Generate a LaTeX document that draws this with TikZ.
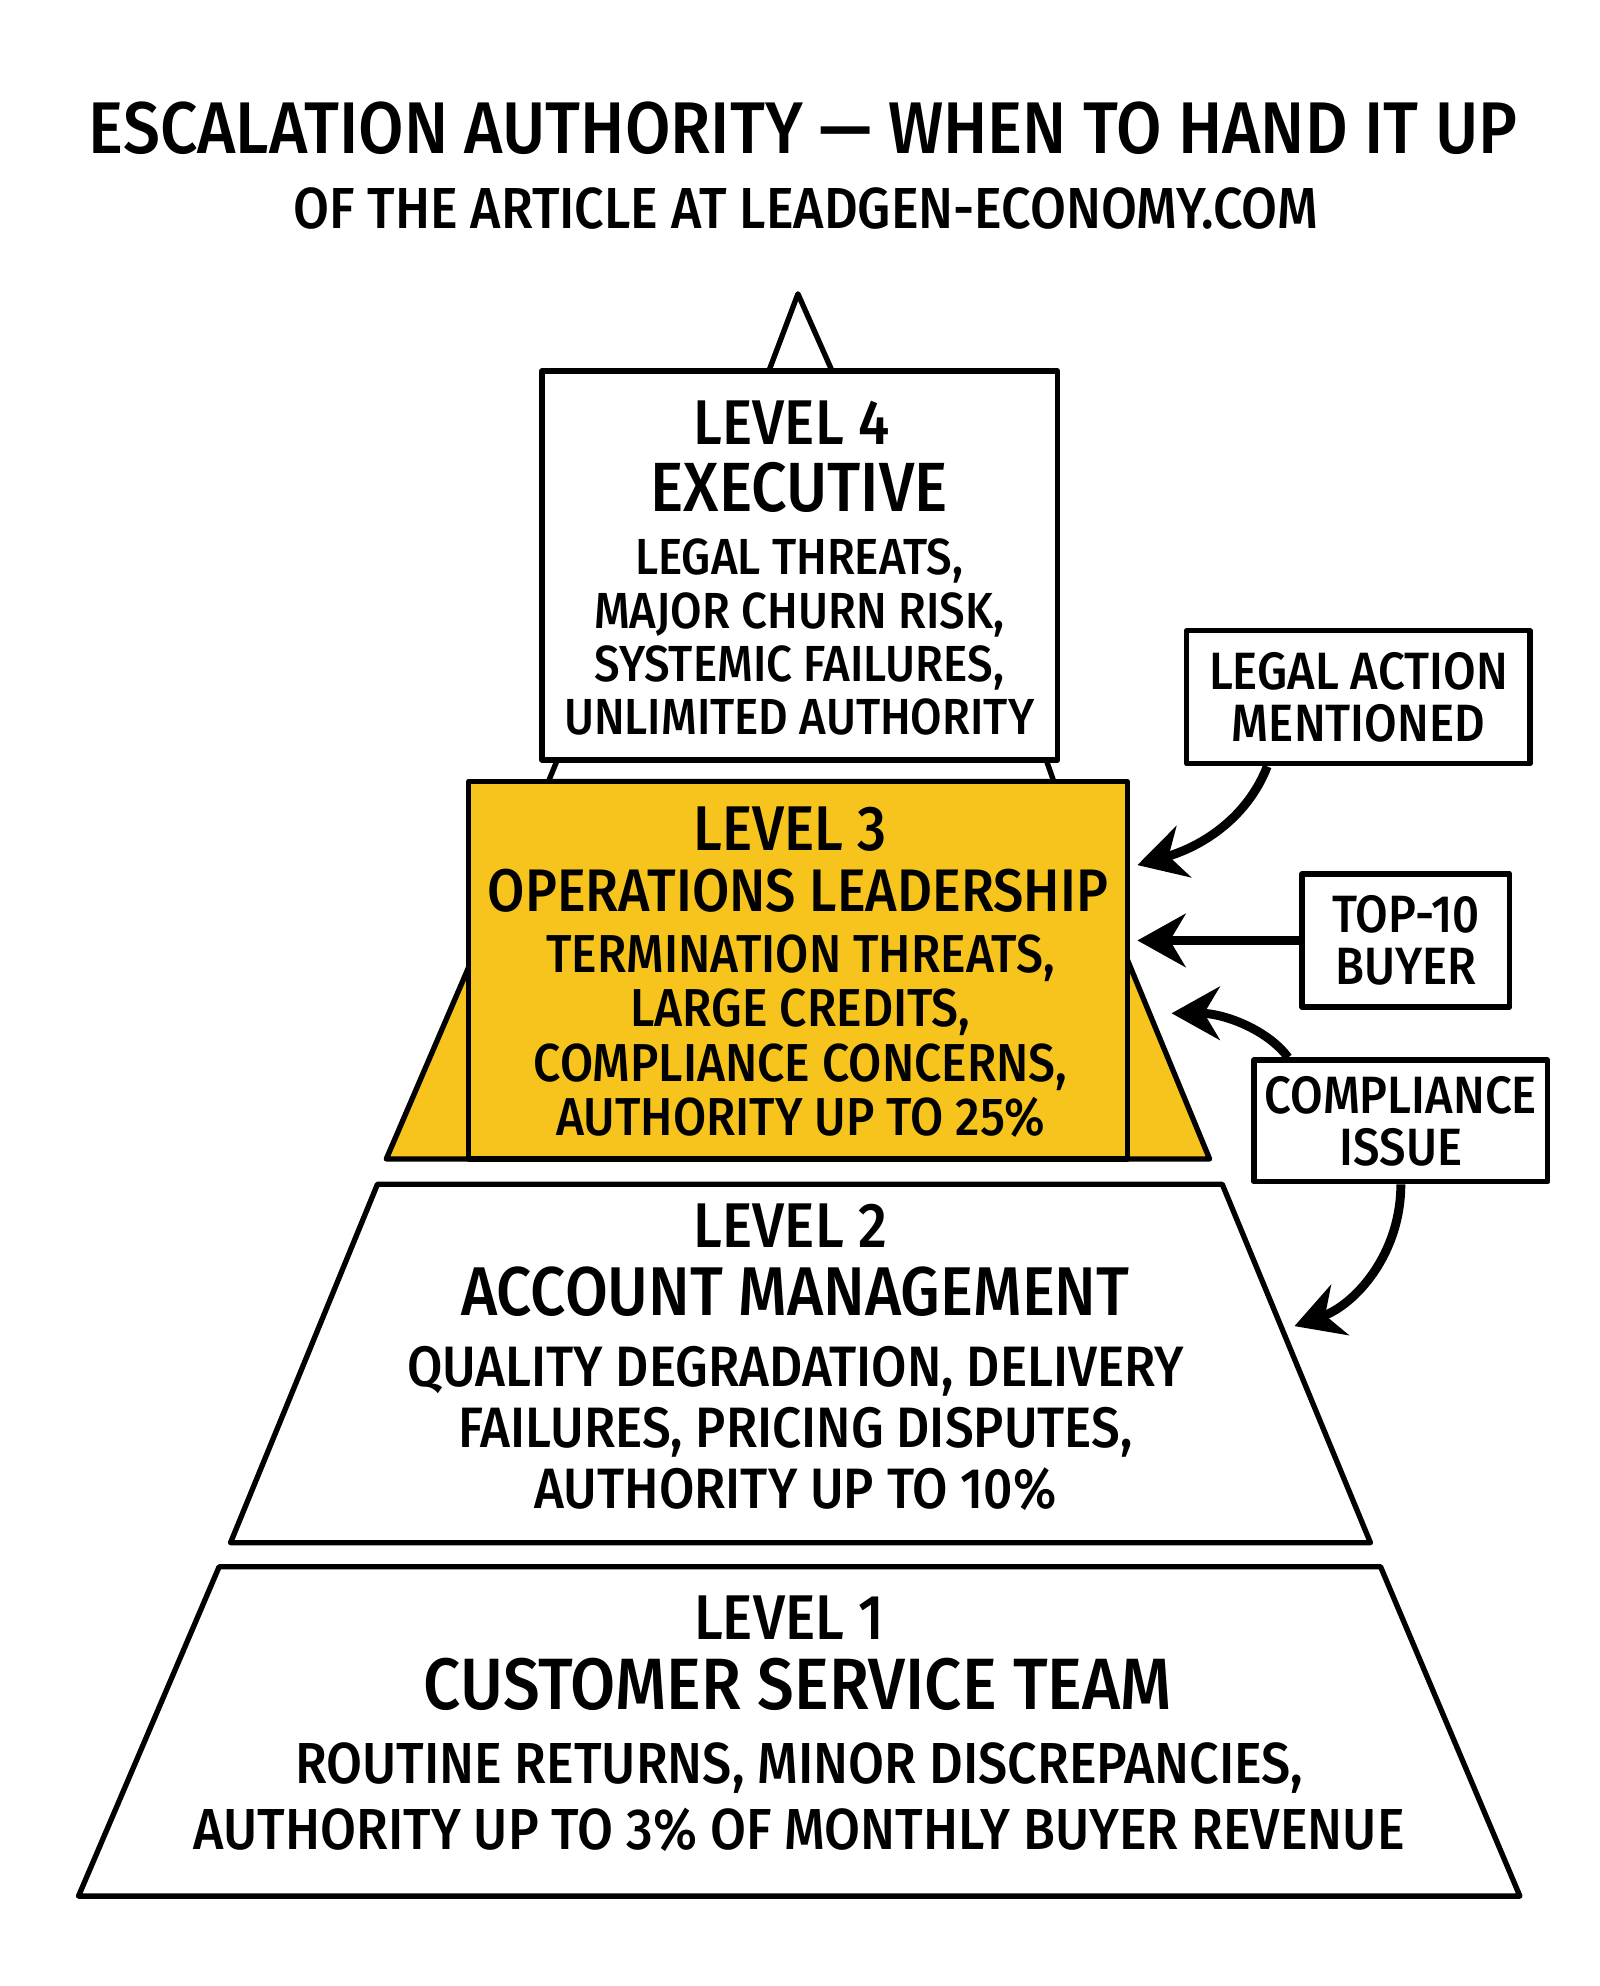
\documentclass[tikz,border=0pt]{standalone}
\usepackage{fontspec}
\setmainfont{Fira Sans}[UprightFont={* Medium}, FakeStretch=0.9]
\usepackage{tikz}
\usetikzlibrary{shapes,arrows.meta,positioning,calc}
\definecolor{levelyellow}{RGB}{246,196,28}

\tikzset{
  edge/.style={line width=1.2pt, line join=round, line cap=round},
  lvlnum/.style={inner sep=0pt, font=\fontsize{14.2}{16}\selectfont},
  lvlhead/.style={inner sep=0pt},
  detail/.style={inner sep=0pt, align=center},
  trigger/.style={draw, edge, fill=white, align=center, inner sep=0pt,
    font=\fontsize{11.8}{11.7}\selectfont},
  push/.style={line width=2pt, -{Stealth[length=3.8mm, width=4.2mm]}},
}

\begin{document}
\begin{tikzpicture}[x=0.1mm, y=-0.1mm]
    % Canvas
    \fill[white] (0,0) rectangle (1263,1568);
    \useasboundingbox (0,0) rectangle (1263,1568);

    % Heading
    \node[inner sep=0pt, font=\fontsize{16.45}{18}\selectfont] (title) at (634,101) {ESCALATION AUTHORITY — WHEN TO HAND IT UP};
    \node[inner sep=0pt, font=\fontsize{13}{15}\selectfont] (subtitle) at (636,165) {OF THE ARTICLE AT LEADGEN-ECONOMY.COM};

    % Level 1 and 2 bands
    \draw[edge, fill=white] (173,1237) -- (1090,1237) -- (1200,1497) -- (62,1497) -- cycle;
    \draw[edge, fill=white] (298,935) -- (965,935) -- (1082,1218) -- (182,1218) -- cycle;

    % Level 3 wings and the legs under level 4
    \draw[edge, fill=levelyellow] (305,915) -- (433,617) -- (832,617) -- (955,915) -- cycle;
    \draw[edge] (433,617) -- (440,600);
    \draw[edge] (832,617) -- (826,600);
    \node[draw, edge, fill=levelyellow, minimum width=52mm, minimum height=29.8mm] (l3) at (630,766) {};

    % Peak and level 4
    \draw[edge] (607,293) -- (630,232) -- (657,293);
    \node[draw, edge, fill=white, minimum width=40.7mm, minimum height=30.7mm] (l4) at (631.5,446.5) {};

    % Level texts
    \node[lvlnum] (l4num) at (625,334) {LEVEL 4};
    \node[lvlhead, font=\fontsize{15.65}{18}\selectfont] (l4head) at (631,385) {EXECUTIVE};
    \node[detail, font=\fontsize{11.4}{11.95}\selectfont] (l4text) at (631,503)
        {LEGAL THREATS,\\MAJOR CHURN RISK,\\SYSTEMIC FAILURES,\\UNLIMITED AUTHORITY};

    \node[lvlnum] (l3num) at (624,655) {LEVEL 3};
    \node[lvlhead, font=\fontsize{13.5}{16}\selectfont] (l3head) at (630,703) {OPERATIONS LEADERSHIP};
    \node[detail, font=\fontsize{12}{12.2}\selectfont] (l3text) at (632,818)
        {TERMINATION THREATS,\\LARGE CREDITS,\\COMPLIANCE CONCERNS,\\AUTHORITY UP TO 25\%};

    \node[lvlnum] (l2num) at (624,968) {LEVEL 2};
    \node[lvlhead, font=\fontsize{15.5}{18}\selectfont] (l2head) at (628,1020) {ACCOUNT MANAGEMENT};
    \node[detail, font=\fontsize{12.8}{13.7}\selectfont] (l2text) at (628,1128)
        {QUALITY DEGRADATION, DELIVERY\\FAILURES, PRICING DISPUTES,\\AUTHORITY UP TO 10\%};

    \node[lvlnum] (l1num) at (623,1277) {LEVEL 1};
    \node[lvlhead, font=\fontsize{16.35}{18}\selectfont] (l1head) at (630,1330) {CUSTOMER SERVICE TEAM};
    \node[detail, font=\fontsize{13}{14.8}\selectfont] (l1text) at (631,1419)
        {ROUTINE RETURNS, MINOR DISCREPANCIES,\\AUTHORITY UP TO 3\% OF MONTHLY BUYER REVENUE};

    % Triggers
    \node[trigger, minimum width=27.1mm, minimum height=10.5mm] (legal) at (1072.5,550.5) {LEGAL ACTION\\MENTIONED};
    \node[trigger, minimum width=16.4mm, minimum height=10.5mm] (top10) at (1110,742.5) {TOP-10\\BUYER};
    \node[trigger, minimum width=23.2mm, minimum height=9.6mm] (compliance) at (1106,885) {COMPLIANCE\\ISSUE};

    % Arrow targets
    \coordinate (hitA) at (898,683);
    \coordinate (hitB) at (898,742.5);
    \coordinate (hitC) at (925,800);
    \coordinate (hitD) at (1022,1047);

    % Escalation arrows
    \draw[push] ([xshift=-7.2mm]legal.south) .. controls (985,645) and (950,668) .. (hitA);
    \draw[push] (top10.west) -- (hitB);
    \draw[push] ([xshift=-8.9mm]compliance.north) .. controls (1000,812) and (965,800) .. (hitC);
    \draw[push] (compliance.south) .. controls (1106,990) and (1070,1030) .. (hitD);
\end{tikzpicture}
\end{document}
